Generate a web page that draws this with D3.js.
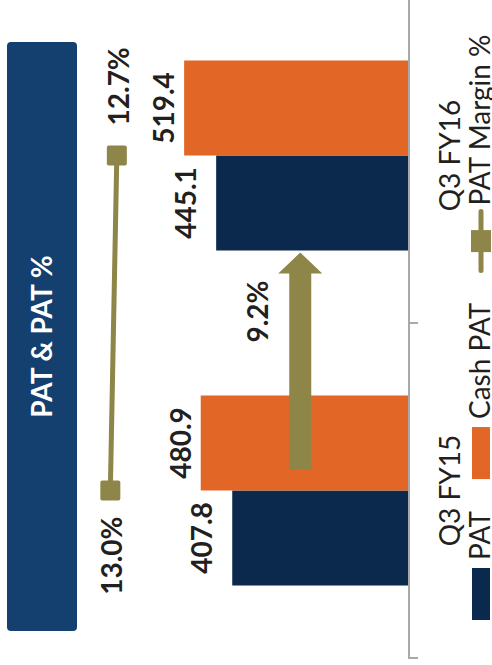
<!DOCTYPE html>
<html>
<head>
<meta charset="utf-8">
<script src="https://cdn.jsdelivr.net/npm/d3@7"></script>
<style>
  html, body { margin: 0; padding: 0; background: #ffffff; }
  svg { display: block; }
  text { font-family: Lato, "Open Sans", sans-serif; }
</style>
</head>
<body>
<script>
// Quarterly profit figures (₹ Cr) and margin
const categories = ["Q3 FY15", "Q3 FY16"];
const barSeries = ["PAT", "Cash PAT"];
const patValues = [407.8, 445.1];
const cashPatValues = [480.9, 519.4];
const marginSeries = "PAT Margin %";
const marginValues = [13.0, 12.7];
const growthLabel = "9.2%";
const chartTitle = "PAT & PAT %";

const W = 492, H = 665;
const colors = { "PAT": "#0b294c", "Cash PAT": "#e26727", "PAT Margin %": "#8e8549" };
const textColor = "#231f20";

const svg = d3.select("body").append("svg")
  .attr("width", W).attr("height", H);

// The whole chart is laid out in a landscape frame and turned a quarter turn.
const g = svg.append("g").attr("transform", `translate(0,${H}) rotate(-90)`);

const baseline = 408;
const x0 = d3.scaleBand().domain(categories).range([7, 677]).paddingInner(0).paddingOuter(0);
const x1 = d3.scaleBand().domain(barSeries).range([0, x0.bandwidth()]).paddingInner(0).paddingOuter(0.763);
const y = d3.scaleLinear().domain([0, 600]).range([baseline, baseline - 258.6]);
const yPct = d3.scaleLinear().domain([0, 15]).range([392, 67]);

const rows = categories.map((c, i) => ({
  cat: c,
  vals: [
    { s: "PAT", v: patValues[i] },
    { s: "Cash PAT", v: cashPatValues[i] }
  ]
}));

// Title banner
const titleBox = { x: 34, y: 7, w: 589, h: 70 };
g.append("rect")
  .attr("x", titleBox.x).attr("y", titleBox.y)
  .attr("width", titleBox.w).attr("height", titleBox.h)
  .attr("rx", 4).attr("fill", "#14406f");
g.append("text")
  .attr("x", titleBox.x + titleBox.w / 2).attr("y", titleBox.y + titleBox.h / 2)
  .attr("dy", "0.36em")
  .attr("text-anchor", "middle")
  .attr("font-weight", 700).attr("font-size", 28)
  .attr("fill", "#ffffff")
  .text(chartTitle);

// Bars
const labelGap = { "PAT": 20, "Cash PAT": 10 };
const groups = g.selectAll("g.cat").data(rows).join("g")
  .attr("class", "cat")
  .attr("transform", d => `translate(${x0(d.cat)},0)`);

groups.selectAll("rect").data(d => d.vals).join("rect")
  .attr("x", d => x1(d.s))
  .attr("y", d => y(d.v))
  .attr("width", x1.bandwidth())
  .attr("height", d => y(0) - y(d.v))
  .attr("fill", d => colors[d.s]);

groups.selectAll("text.val").data(d => d.vals).join("text")
  .attr("class", "val")
  .attr("x", d => x1(d.s) + x1.bandwidth() / 2)
  .attr("y", d => y(d.v) - labelGap[d.s])
  .attr("text-anchor", "middle")
  .attr("font-weight", 700).attr("font-size", 28)
  .attr("fill", textColor)
  .text(d => d.v.toFixed(1));

// Category axis: baseline with boundary ticks
const axisColor = "#a9a9a9";
const [ax0, ax1] = x0.range();
g.append("line")
  .attr("x1", ax0).attr("x2", ax1)
  .attr("y1", baseline + 1).attr("y2", baseline + 1)
  .attr("stroke", axisColor).attr("stroke-width", 2);
const tickPos = categories.map(c => x0(c)).concat([ax1]);
g.selectAll("line.tick").data(tickPos).join("line")
  .attr("class", "tick")
  .attr("x1", d => d).attr("x2", d => d)
  .attr("y1", baseline).attr("y2", baseline + 10)
  .attr("stroke", axisColor).attr("stroke-width", 2);
g.selectAll("text.cat").data(categories).join("text")
  .attr("class", "cat")
  .attr("x", d => x0(d) + x0.bandwidth() / 2)
  .attr("y", 460)
  .attr("text-anchor", "middle")
  .attr("font-size", 28)
  .attr("fill", textColor)
  .text(d => d);

// Margin line with square markers
const marginPts = categories.map((c, i) => ({
  x: x0(c) + x0.bandwidth() / 2,
  y: yPct(marginValues[i]),
  v: marginValues[i]
}));
g.append("path")
  .datum(marginPts)
  .attr("d", d3.line().x(d => d.x).y(d => d.y))
  .attr("fill", "none")
  .attr("stroke", colors[marginSeries])
  .attr("stroke-width", 5);
g.selectAll("rect.mk").data(marginPts).join("rect")
  .attr("class", "mk")
  .attr("x", d => d.x - 10).attr("y", d => d.y - 10)
  .attr("width", 20).attr("height", 20)
  .attr("rx", 2)
  .attr("fill", colors[marginSeries]);
g.selectAll("text.pct").data(marginPts).join("text")
  .attr("class", "pct")
  .attr("x", (d, i) => i === 0 ? d.x - 26 : d.x + 30)
  .attr("y", d => d.y + 12)
  .attr("text-anchor", (d, i) => i === 0 ? "end" : "start")
  .attr("font-weight", 700).attr("font-size", 28)
  .attr("fill", textColor)
  .text(d => d.v.toFixed(1) + "%");

// Growth arrow from the earlier quarter to the later one
const arrowY = y(250);
const arrowStart = x0(categories[0]) + x0.bandwidth() / 2 + 21;
const arrowTip = x0(categories[1]) + x1(barSeries[0]) - 2;
const headLen = 21, shaftHalf = 11, headHalf = 22;
const arrowPath = d3.path();
arrowPath.moveTo(arrowStart, arrowY - shaftHalf);
arrowPath.lineTo(arrowTip - headLen, arrowY - shaftHalf);
arrowPath.lineTo(arrowTip - headLen, arrowY - headHalf);
arrowPath.lineTo(arrowTip, arrowY);
arrowPath.lineTo(arrowTip - headLen, arrowY + headHalf);
arrowPath.lineTo(arrowTip - headLen, arrowY + shaftHalf);
arrowPath.lineTo(arrowStart, arrowY + shaftHalf);
arrowPath.closePath();
g.append("path")
  .attr("d", arrowPath.toString())
  .attr("fill", colors[marginSeries]);
g.append("text")
  .attr("x", arrowTip - 28)
  .attr("y", arrowY - 32)
  .attr("text-anchor", "end")
  .attr("font-weight", 700).attr("font-size", 28)
  .attr("fill", textColor)
  .text(growthLabel);

// Legend
const legendItems = barSeries.map(s => ({ name: s, type: "rect" }))
  .concat([{ name: marginSeries, type: "line" }]);
const legend = g.append("g").attr("class", "legend");
let lx = 45;
const keyW = 52, keyTop = 472, keyH = 18, textBase = 490;
legendItems.forEach(item => {
  const it = legend.append("g");
  if (item.type === "rect") {
    it.append("rect")
      .attr("x", lx).attr("y", keyTop)
      .attr("width", keyW).attr("height", keyH)
      .attr("fill", colors[item.name]);
  } else {
    const cy = keyTop + 9;
    it.append("line")
      .attr("x1", lx).attr("x2", lx + keyW + 7)
      .attr("y1", cy).attr("y2", cy)
      .attr("stroke", colors[item.name])
      .attr("stroke-width", 5)
      .attr("stroke-linecap", "round");
    it.append("rect")
      .attr("x", lx + (keyW + 7) / 2 - 11).attr("y", cy - 10)
      .attr("width", 22).attr("height", 20)
      .attr("fill", colors[item.name]);
  }
  const tx = lx + keyW + (item.type === "line" ? 13 : 8);
  const t = it.append("text")
    .attr("x", tx).attr("y", textBase)
    .attr("font-size", 28)
    .attr("fill", textColor)
    .text(item.name);
  lx = tx + t.node().getComputedTextLength() + 32;
});
</script>
</body>
</html>
